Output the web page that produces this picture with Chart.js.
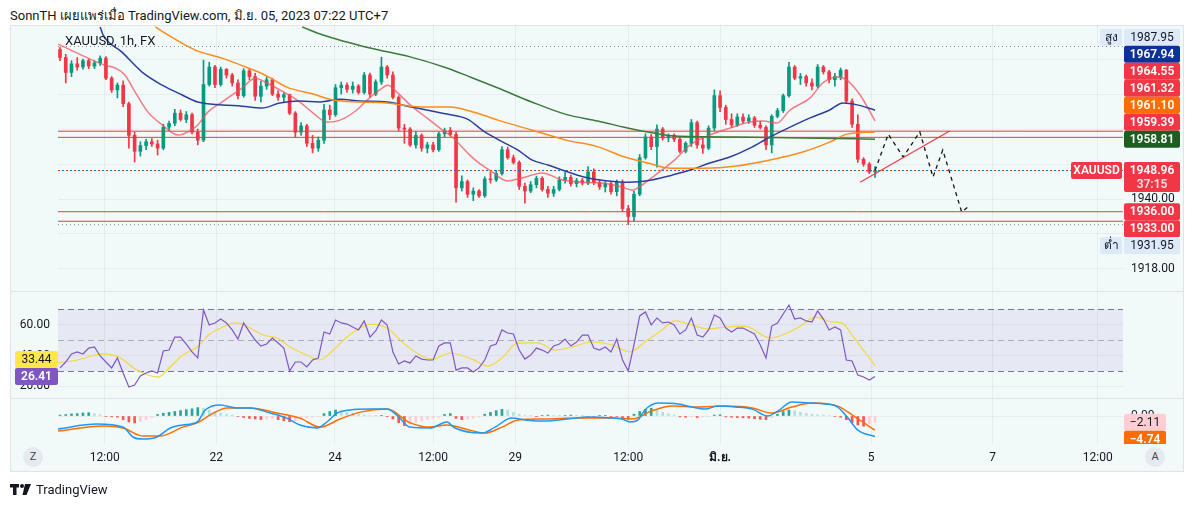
<!DOCTYPE html>
<html lang="th">
<head>
<meta charset="utf-8">
<title>XAUUSD 1h</title>
<script src="https://cdn.jsdelivr.net/npm/chart.js@4.4.1/dist/chart.umd.min.js"></script>
<style>
  html, body { margin: 0; padding: 0; background: #fff; }
  body { width: 1194px; height: 507px; position: relative; overflow: hidden;
         font-family: Roboto, "Noto Sans", sans-serif; color: #131722; }
  #title { position: absolute; left: 10px; top: 5px; font-size: 13px; white-space: nowrap; }
  #frame { position: absolute; left: 10px; top: 25px; width: 1174px; height: 447px;
           box-sizing: border-box; background: #f2faf9; border: 1px solid #e0e3eb; }
  .sep { position: absolute; left: 10px; width: 1174px; height: 1px; background: #e0e3eb; }
  canvas { position: absolute; left: 10px; }
  #legend { position: absolute; left: 65px; top: 33px; font-size: 13px; color: #131722; }
  .circle { position: absolute; top: 447px; width: 20px; height: 20px; border-radius: 50%;
            background: #e6e9ee; font-size: 11px; line-height: 20px; text-align: center; color: #434651; }
  #brand { position: absolute; left: 10px; top: 482px; font-size: 13px; color: #131722;
           display: flex; align-items: center; gap: 4px; }
</style>
</head>
<body>
<div id="title">SonnTH เผยแพร่เมื่อ TradingView.com, มิ.ย. 05, 2023 07:22 UTC+7</div>
<div id="frame"></div>
<div class="sep" style="top:291px"></div>
<div class="sep" style="top:398px"></div>
<canvas id="mainChart" width="1173" height="266" style="top:25px"></canvas>
<canvas id="rsiChart" width="1173" height="106" style="top:292px"></canvas>
<canvas id="macdChart" width="1173" height="72" style="top:399px"></canvas>
<div id="legend">XAUUSD, 1h, FX</div>
<div class="circle" style="left:23px">Z</div>
<div class="circle" style="left:1145px">A</div>
<div id="brand">
  <svg width="22" height="12" viewBox="0 0 22 12"><rect x="0" y="0" width="9" height="3.5" fill="#131722"/><rect x="3" y="0" width="3.5" height="11" fill="#131722"/><circle cx="12" cy="2" r="2" fill="#131722"/><polygon points="15,0 21,0 16.5,11 12.5,11" fill="#131722"/></svg>
  <span>TradingView</span>
</div>
<script>
// candles, 2h each
const opens = [1987,1984.5,1979.8,1982.5,1981.5,1983.5,1981.8,1982.8,1984.3,1978,
  1974.3,1975.8,1970,1960,1955,1956.8,1958,1957.3,1956,1962.6,
  1963.8,1967,1965,1966.5,1961,1958.5,1976,1981.5,1976,1980.8,
  1979,1976.5,1972.5,1980.3,1978.5,1972.3,1975.5,1977.5,1973,1972,
  1972.8,1967,1961,1963,1957.5,1956,1958.5,1968,1966.5,1975,
  1975.8,1974.5,1975.5,1973.5,1979,1973,1976.8,1981.5,1979,1972,
  1962.3,1962,1957,1960,1956,1957,1955.5,1960.5,1961.5,1960.3,
  1943.5,1945.5,1941.5,1942.5,1941,1946.3,1946,1948,1955.5,1953,
  1951.5,1944,1942.5,1944.5,1946.5,1943,1941.8,1943,1946,1946.8,
  1944.8,1945.8,1945,1948.5,1945.2,1943.8,1944.8,1942.3,1945.3,1937,
  1934.5,1941.5,1953,1959.5,1956.5,1962,1959.2,1960,1958.8,1955,
  1957.5,1964,1957,1956,1962.3,1972.5,1968.8,1965,1963.3,1965.8,
  1964.5,1965.5,1963.2,1962.5,1957,1966,1967.8,1972.5,1981.5,1978,
  1978.5,1976.5,1975.5,1981.5,1980,1977.5,1978.5,1980.5,1970.8,1963.5,
  1952.5,1951,1948.5];
const highs = [1987.8,1985.5,1983.5,1984.5,1984,1984,1983.5,1985,1984.8,1978.5,
  1976.5,1977.2,1970.5,1961,1958,1958.8,1959,1958.5,1963.5,1964.5,
  1968.2,1968,1967.5,1967,1962,1983.7,1983,1982,1981.5,1981,
  1979.5,1977.5,1981,1981,1979.5,1977,1978.5,1978,1974,1973.5,
  1973,1967.5,1964,1963.5,1960,1959.5,1969.8,1969.5,1976,1976.8,
  1976.5,1976.8,1976,1979.8,1979.6,1977.5,1984.6,1982,1980,1972.5,
  1963.5,1962.5,1961.2,1960.5,1957.8,1957.8,1961,1962.3,1962.5,1961,
  1947.3,1946,1943.5,1943,1947,1948.5,1949,1956.5,1956.3,1953.8,
  1952,1945,1945.5,1947.2,1947,1944,1944,1947,1948.5,1947.5,
  1946.5,1946.5,1950.2,1949.5,1946,1945.5,1945.3,1946,1946,1938,
  1942.5,1954,1960.5,1960.3,1963.3,1962.5,1960.5,1960.5,1959.5,1958,
  1965,1964.5,1959.5,1963,1974.3,1974,1969.5,1966.8,1966.8,1966.8,
  1966.5,1966,1964.5,1963,1966.5,1968.5,1973,1983,1982,1979.5,
  1979,1977.8,1982.3,1982,1980.5,1979.5,1981.2,1980.8,1971.5,1966.5,
  1953,1951.5,1950.2];
const lows = [1983.5,1976.5,1978.5,1980.5,1980.8,1981,1981,1982,1977.5,1973.5,
  1971.8,1969,1956,1951.6,1953.5,1955.5,1956.5,1953.8,1955.5,1961.5,
  1963,1964.5,1964,1960.5,1957,1958,1975.5,1975,1975.5,1978,
  1975.5,1971.5,1972,1977.5,1971,1970.5,1974.5,1972.5,1971,1970.5,
  1966.5,1959.5,1960,1956.5,1954.5,1955,1957.5,1965,1966,1973,
  1973.5,1973.3,1973,1973,1972,1972.5,1976,1978,1971.5,1961.5,
  1957.5,1956.5,1956,1955,1954.5,1954.8,1955,1959.5,1959.8,1939,
  1942.5,1940.5,1939.5,1940.5,1940.5,1945,1945.5,1947.5,1952.5,1951,
  1943,1938.7,1942,1943.5,1942.5,1940.5,1940.8,1942.5,1945,1944,
  1943.8,1944.4,1944.5,1944.5,1943,1942.2,1941.5,1941,1936,1931.95,
  1933,1941,1952.5,1955.5,1950,1958.5,1958,1958,1954.5,1954.5,
  1956.5,1956,1954.3,1955.5,1961.5,1967.5,1963.5,1962.5,1962.8,1963.8,
  1963.8,1962.5,1962,1955.5,1954.5,1965.5,1967.2,1972,1977.5,1976,
  1975.5,1974.3,1975,1979.3,1976.5,1975.5,1977.5,1970,1962.5,1951.5,
  1950.3,1948,1946.8];
const closes = [1984.5,1979.8,1982.5,1981.5,1983.5,1981.8,1982.8,1984.3,1978,1974.3,
  1975.8,1970,1960,1955,1956.8,1958,1957.3,1956,1962.6,1963.8,
  1967,1965,1966.5,1961,1958.5,1976,1981.5,1976,1980.8,1979,
  1976.5,1972.5,1980.3,1978.5,1972.3,1975.5,1977.5,1973,1972,1972.8,
  1967,1961,1963,1957.5,1956,1958.5,1968,1966.5,1975,1975.8,
  1974.5,1975.5,1973.5,1979,1973,1976.8,1981.5,1979,1972,1962.3,
  1962,1957,1960,1956,1957,1955.5,1960.5,1961.5,1960.3,1943.5,
  1945.5,1941.5,1942.5,1941,1946.3,1946,1948,1955.5,1953,1951.5,
  1944,1942.5,1944.5,1946.5,1943,1941.8,1943,1946,1946.8,1944.8,
  1945.8,1945,1948.5,1945.2,1943.8,1944.8,1942.3,1945.3,1937,1934.5,
  1941.5,1953,1959.5,1956.5,1962,1959.2,1960,1958.8,1955,1957.5,
  1964,1957,1956,1962.3,1972.5,1968.8,1965,1963.3,1965.8,1964.5,
  1965.5,1963.2,1962.5,1957,1966,1967.8,1972.5,1981.5,1978,1978.5,
  1976.5,1975.5,1981.5,1980,1977.5,1978.5,1980.5,1970.8,1963.5,1952.5,
  1951,1948.5,1948.96];

// moving averages, [bar, price]
const emaFast = [[-0.3,1988.7],[4.9,1984.3],[7.8,1982.1],[9.6,1981.2],[11.3,1979],[13.1,1973.6],[15.3,1967.4],[17.8,1963.3],[20.6,1960.1],[22.3,1961.1],[24,1963.3],[25.8,1967.4],[28.2,1970.5],[31.7,1974.9],[34,1978],[35.7,1976.8],[38.3,1974.3],[41.8,1970.5],[44.1,1967],[46.5,1964.2],[48.8,1964.8],[51.7,1968],[53.5,1971.1],[55.7,1974.3],[57.1,1975.8],[58.7,1973.6],[61,1969.6],[63.9,1965.5],[66.2,1962.3],[68.5,1959.2],[71.4,1953.8],[72.8,1951.6],[75.3,1948.5],[77.9,1945.7],[80.5,1946.6],[84,1948.2],[87.5,1946],[90.9,1945.3],[94.4,1945],[97.9,1943.8],[99.7,1942.8],[101.4,1944.4],[103.7,1947.5],[107.1,1952.3],[109.8,1957],[113.2,1960.1],[116.7,1962.3],[120.2,1964.2],[122.5,1964.5],[124.9,1963.9],[127.2,1968],[130.7,1971.8],[132.9,1976.5],[135.4,1978.4],[137.1,1977.4],[139.4,1972.7],[142,1964.55]];
const emaMid = [[7,1994.1],[7.5,1991.6],[10.8,1986.2],[14.3,1979.9],[17.8,1975.8],[21.3,1972.7],[24,1970.5],[28.2,1969.6],[31.7,1969.2],[35.2,1968.6],[38.3,1970.2],[41.8,1970.8],[45.3,1970.5],[48.8,1971.4],[52.3,1970.8],[57,1970.5],[60.5,1969.2],[63.9,1968],[67.4,1966.7],[70.9,1965.2],[74,1961.1],[77.5,1957.6],[79.8,1955.4],[82.2,1952.3],[85,1950.7],[88.5,1948.5],[92,1946.6],[95.5,1945.7],[99,1945.3],[103.1,1946],[106.6,1947.5],[109.8,1949.1],[113.2,1951.3],[116.7,1953.2],[120.2,1956],[123.7,1959.5],[127.2,1962.6],[130.7,1965.5],[134.1,1968],[136.4,1970.2],[138.9,1969.6],[142,1967.94]];
const emaSlow = [[16.6,1994.1],[18.8,1991.6],[23.5,1986.9],[28.2,1984.3],[32.8,1981.2],[35.7,1979],[39.5,1975.2],[44.1,1973],[47.6,1971.1],[52.3,1970.5],[57,1970.2],[61,1969.2],[65,1968.9],[67.9,1968.9],[71.4,1967.7],[76.3,1964.8],[82.2,1961.7],[88,1958.6],[93.7,1956.4],[98.4,1953.2],[102.4,1951.3],[106.6,1949.7],[112,1949.7],[117.9,1950.4],[123.7,1952.3],[129.4,1954.8],[134.1,1957.9],[137.1,1960.4],[142,1961.1]];
const emaLong = [[42.2,1994.1],[45.8,1991.6],[54,1987.5],[61,1984.7],[67.4,1981.2],[71.4,1978.4],[76.3,1974.9],[82.2,1970.5],[88,1966.7],[93.7,1964.5],[99.7,1962],[103.1,1960.8],[107.1,1959.8],[117.9,1959.5],[129.4,1959.2],[142,1958.81]];

// drawings
const projection = [[142,1948.96],[144.3,1960.4],[146.9,1953.2],[149.8,1961.1],[152.1,1946.9],[153.8,1955.4],[157.1,1935.9],[158.2,1937.5]];
const trendLine = [[139.4,1945.3],[155,1961.4]];
const levelLines = [1961.32, 1959.39, 1936, 1933];
const highPrice = 1987.95, lowPrice = 1931.95, lastPrice = 1948.96;
const countdown = '37:15';
const tagValues = [1987.95, 1967.94, 1964.55, 1961.32, 1961.10, 1959.39, 1958.81, 1936.00, 1933.00, 1931.95];

// RSI
const rsi = [32,35.8,41,42.3,41,44.8,45.5,39.7,35.8,32,
  38.4,28.7,19.7,21,26.8,28.7,30,28.7,42.9,43.5,
  51.9,51.9,47.4,42.3,38.4,69.4,59.7,61,63.5,61,
  56.5,50.6,61,55.2,50,46.1,47.4,51.3,48.1,44.8,
  30,35.8,35.8,32.6,37.1,38.4,55.2,53.9,62.9,61,
  60.3,58.4,56.5,62.3,51.9,55.8,62.9,59.7,42.3,34.5,
  36.5,35.2,39.7,37.7,37.1,37.1,46.1,48.1,48.1,30.6,
  32,32,29.4,32,37.1,46.1,47.4,56.5,54.5,53.9,
  43.5,37.7,40.3,44.8,43.5,41.6,46.1,47.4,50.6,46.1,
  48.7,53.2,53.2,44.8,43.5,45.5,42.3,50.6,37.1,30,
  46.8,65.5,68.1,59.7,64.2,61,61.6,59.7,53.9,56.5,
  64.2,53.2,51.9,56.5,66.1,64.2,57.7,55.2,57.7,57.7,
  55.8,53.9,46.8,38.4,59,61,66.8,72.6,63.5,64.2,
  62.3,61.6,68.7,63.5,56.5,58.4,56.5,37.1,36.5,27.4,
  26.1,24.2,26.41];
const rsiMa = [[-0.35,35.2],[3,37.1],[7.5,41],[10.5,38.4],[13.4,30.6],[17.1,26.1],[19.2,32.6],[21.4,40.3],[23.9,45.5],[26.1,53.9],[28.4,58.4],[30.8,61],[33.1,57.7],[35.4,53.2],[37.8,51.3],[40.1,45.5],[43,40.3],[45.3,37.1],[47.6,43.5],[50,51.9],[52.3,57.7],[54,60.3],[57,57.7],[59.8,48.1],[62.7,40.3],[65,37.7],[67.9,41.6],[71.8,37.7],[74.6,33.2],[77,38.4],[79.8,48.1],[83.3,48.1],[86.2,43.5],[89.2,45.5],[92.7,48.7],[96.2,46.8],[99.3,42.3],[101.9,48.7],[104.9,56.5],[107.1,62.3],[110.1,59.7],[112.9,57.1],[115.9,58.4],[119.3,59],[123.7,51.3],[126.3,53.9],[129.3,59.7],[131.5,64.8],[134.5,61.6],[136.2,61],[138,53.2],[139.7,44.8],[142,33.44]];
const rsiLevels = [70, 50, 30];
const rsiTicks = [20, 40, 60];
const rsiTags = [33.44, 26.41];

// MACD
const macdLine = [[-0.35,-4.3],[6.4,-2.7],[11,-3.7],[12.7,-7],[14.5,-7.7],[16.9,-7],[19.2,-4],[21.4,-3],[23.9,-2],[25.3,2],[27.9,3.7],[30.8,2.7],[33.1,2.7],[36.6,1],[39.5,-0.7],[41.8,-3],[44.8,-4],[46.5,-2],[48.3,1],[50.5,2],[54,2.3],[57,2.3],[58.7,0.3],[61,-3.7],[64.5,-4],[67.4,-2],[68.8,-4],[73.5,-5.7],[75.8,-3.7],[78.7,-0.7],[81,-1.3],[84.5,-1.7],[88.5,-1],[92,-0.3],[96.2,-0.7],[97.9,-1],[99.3,-2],[100.7,-1.3],[101.9,2],[104.2,4.3],[107.7,4],[110.1,3],[112.4,2.3],[114.6,3.3],[117.6,3],[120.6,2.3],[123.3,0],[125.1,1.7],[127.5,4.7],[131,4.3],[133.3,4],[135.5,3],[137.3,-0.7],[139,-4.7],[142,-6.85]];
const signalLine = [[-0.35,-5],[7.5,-3.3],[11,-4],[14.5,-6.7],[17.4,-6.7],[21.4,-3.7],[23.9,-2.3],[26.1,0.3],[29.1,2.7],[33.1,2.7],[37.8,1],[41.8,-0.7],[45.3,-3.7],[48.8,-1],[52.3,1.3],[57,2.3],[61,-2.3],[64.5,-3.7],[67.4,-3],[70.6,-4.3],[74,-5.7],[77,-3.7],[79.8,-1.3],[84.5,-1],[90.2,-0.7],[96.2,-0.7],[99.7,-1],[103.1,1.7],[106.6,3.3],[111.1,3],[115.9,3.3],[120.6,2.7],[124,1],[127.5,3],[131,4.3],[135.5,3.3],[138.5,-0.3],[142,-4.74]];
const macdHist = [0.3,0.5,0.7,0.8,1.0,1.1,0.8,0.4,-0.2,-0.3,
  -0.4,-1.2,-2.0,-2.3,-1.8,-1.2,-0.6,0.5,0.9,1.2,
  1.5,1.8,2.1,2.4,2.8,2.6,2.0,1.5,1.0,0.6,
  0.3,-0.2,-0.5,-0.8,-1.0,-1.2,-1.0,-0.8,-1.2,-1.6,
  -1.9,-1.6,-1.0,-0.6,-0.4,-0.2,0.8,1.5,2.0,1.6,
  1.2,0.9,0.6,0.4,0.2,0.1,0.1,-0.1,-1.0,-2.2,
  -3.2,-2.8,-2.2,-1.6,-1.1,-0.7,-0.4,0.5,0.8,-0.8,
  -1.2,-1.0,-0.7,-0.4,0.6,1.2,1.8,2.2,2.0,1.2,
  0.6,0.2,0.1,-0.1,0.2,0.3,0.2,0.1,0.2,0.3,
  0.2,0.1,-0.1,-0.2,0.1,0.1,-0.1,-0.2,-0.8,-1.1,
  0.6,1.5,2.2,2.6,1.9,1.2,0.7,0.4,-0.3,-0.4,
  -0.3,-0.5,-0.3,-0.2,0.3,0.4,-0.3,-0.4,-0.5,-0.6,
  -0.7,-0.9,-1.1,-1.2,-0.6,0.6,1.5,2.0,1.7,1.3,
  0.9,0.6,0.4,0.3,0.2,-0.2,-0.4,-1.2,-2.2,-3.0,
  -3.4,-2.6,-2.11];
const macdTags = [-2.11, -4.74];

// axes
const timePos = [7.8, 27.2, 47.9, 65, 79.3, 99, 115, 141.3, 162.5, 180.8];
const timeLabels = ['12:00', '22', '24', '12:00', '29', '12:00', 'มิ.ย.', '5', '7', '12:00'];
const priceTicks = [1918, 1929, 1940, 1951, 1962, 1973, 1984];
const priceTickShown = [1918, 1940];

const FONT = 'Roboto, "Noto Sans", sans-serif';
const UP = '#089981', DOWN = '#f23645';
const GRID = 'rgba(42,46,57,0.06)';
const xMin = -0.35, xMax = 185.2;

Chart.defaults.font.family = FONT;
Chart.defaults.font.size = 12;
Chart.defaults.color = '#131722';
Chart.defaults.animation = false;
Chart.defaults.plugins.legend.display = false;
Chart.defaults.plugins.tooltip.enabled = false;

const pts = (arr) => arr.map(([x, y]) => ({ x, y }));
const hline = (v) => [{ x: xMin, y: v }, { x: xMax, y: v }];
const lineSet = (data, color, width, extra) => Object.assign({
  type: 'line', data, borderColor: color, borderWidth: width, pointRadius: 0,
  fill: false, cubicInterpolationMode: 'monotone', order: 2
}, extra || {});

const timeAxis = (showLabels) => ({
  type: 'linear', min: xMin, max: xMax, offset: false, bounds: 'data',
  grid: { color: GRID, drawTicks: false, offset: false },
  border: { display: false },
  ticks: {
    display: showLabels, autoSkip: false, maxRotation: 0, padding: 7,
    callback: (v, i) => timeLabels[i],
    font: (c) => ({ family: FONT, size: 12, weight: timeLabels[c.index] === 'มิ.ย.' ? 'bold' : 'normal' })
  },
  afterBuildTicks: (s) => { s.ticks = timePos.map((v) => ({ value: v })); },
  afterFit: (s) => { s.height = showLabels ? 27 : 0; s.paddingLeft = 0; s.paddingRight = 0; }
});

const box = (ctx, x, y, w, h, bg) => {
  ctx.fillStyle = bg;
  ctx.beginPath();
  ctx.roundRect(x, y, w, h, 2);
  ctx.fill();
};
const label = (ctx, text, x, y, color) => {
  ctx.fillStyle = color;
  ctx.textAlign = 'center';
  ctx.textBaseline = 'middle';
  ctx.fillText(text, x, y + 0.5);
};

// ---------- main pane ----------
const hiLo = { bg: '#dde9f9', fg: '#131722', weight: 'normal' };
const red = { bg: DOWN, fg: '#fff', weight: '600' };
const tagStyles = [
  Object.assign({ side: 'สูง' }, hiLo), { bg: '#0c3299', fg: '#fff', weight: '600' }, red, red,
  { bg: '#ff6d00', fg: '#fff', weight: '600' }, red, { bg: '#1b5e20', fg: '#fff', weight: '600' }, red, red,
  Object.assign({ side: 'ต่ำ' }, hiLo)
];

const priceTagPlugin = {
  id: 'priceTags',
  afterDraw(chart) {
    const { ctx, chartArea: a, scales: { y } } = chart;
    const H = 17;
    const lastY = y.getPixelForValue(lastPrice);
    const tags = tagValues.map((v, i) => ({ v, py: y.getPixelForValue(v), st: tagStyles[i] }));

    let limit = lastY - 8.5;
    tags.filter((t) => t.v > lastPrice).sort((p, q) => p.v - q.v).forEach((t) => {
      t.c = Math.min(t.py, limit - H / 2);
      limit = t.c - H / 2;
    });
    limit = lastY + 21.5;
    tags.filter((t) => t.v < lastPrice).sort((p, q) => q.v - p.v).forEach((t) => {
      t.c = Math.max(t.py, limit + H / 2);
      limit = t.c + H / 2;
    });

    ctx.save();
    tags.forEach((t) => {
      ctx.font = `${t.st.weight} 12px ${FONT}`;
      box(ctx, a.right + 1, t.c - H / 2, 56, H, t.st.bg);
      label(ctx, t.v.toFixed(2), a.right + 29, t.c, t.st.fg);
      if (t.st.side) {
        box(ctx, a.right - 23, t.c - H / 2, 22, H, t.st.bg);
        label(ctx, t.st.side, a.right - 12, t.c, t.st.fg);
      }
    });
    ctx.font = `600 12px ${FONT}`;
    box(ctx, a.right + 1, lastY - 8.5, 56, 30, DOWN);
    label(ctx, lastPrice.toFixed(2), a.right + 29, lastY, '#fff');
    label(ctx, countdown, a.right + 29, lastY + 14, 'rgba(255,255,255,0.85)');
    box(ctx, a.right - 52, lastY - 8.5, 51, H, DOWN);
    label(ctx, 'XAUUSD', a.right - 26.5, lastY, '#fff');
    ctx.restore();
  }
};

const candleColors = opens.map((o, i) => (closes[i] >= o ? UP : DOWN));

new Chart(document.getElementById('mainChart'), {
  type: 'bar',
  data: {
    datasets: [
      {
        data: opens.map((o, i) => ({ x: i, y: [lows[i], highs[i]] })),
        backgroundColor: candleColors, barThickness: 1, grouped: false, order: 11
      },
      {
        data: opens.map((o, i) => ({ x: i, y: [Math.min(o, closes[i]), Math.max(o, closes[i])] })),
        backgroundColor: candleColors, barThickness: 3, minBarLength: 1, grouped: false, order: 10
      },
      ...levelLines.map((v) => lineSet(hline(v), DOWN, 1, { order: 6 })),
      lineSet(hline(highPrice), '#8a8d96', 1, { borderDash: [1, 3], order: 6 }),
      lineSet(hline(lowPrice), '#8a8d96', 1, { borderDash: [1, 3], order: 6 }),
      lineSet(hline(lastPrice), DOWN, 1.2, { borderDash: [2, 6], order: 6 }),
      lineSet(hline(lastPrice), '#2962ff', 1.2, { borderDash: [2, 6], borderDashOffset: 4, order: 6 }),
      lineSet(pts(emaLong), '#3b7a3e', 1.5),
      lineSet(pts(emaSlow), '#fb8c1e', 1.5),
      lineSet(pts(emaMid), '#2b3f9e', 1.5),
      lineSet(pts(emaFast), 'rgba(242,80,92,0.75)', 1.5),
      lineSet(pts(trendLine), DOWN, 1.2, { cubicInterpolationMode: 'default', order: 1 }),
      lineSet(pts(projection), '#131722', 1.3, { borderDash: [4, 4], cubicInterpolationMode: 'default', order: 1 })
    ]
  },
  options: {
    responsive: false,
    devicePixelRatio: 1,
    layout: { padding: { left: 48, right: 0, top: 0, bottom: 0 } },
    scales: {
      x: timeAxis(false),
      y: {
        type: 'linear', position: 'right', min: 1911.07, max: 1994.72, bounds: 'data',
        grid: { color: GRID, drawTicks: false },
        border: { display: false },
        ticks: { padding: 8, callback: (v) => (priceTickShown.includes(v) ? v.toFixed(2) : '') },
        afterBuildTicks: (s) => { s.ticks = priceTicks.map((v) => ({ value: v })); },
        afterFit: (s) => { s.width = 60; s.paddingTop = 0; s.paddingBottom = 0; }
      }
    }
  },
  plugins: [priceTagPlugin]
});

// ---------- RSI pane ----------
const rsiPlugin = {
  id: 'rsiBand',
  beforeDatasetsDraw(chart) {
    const { ctx, chartArea: a, scales: { y } } = chart;
    const top = y.getPixelForValue(rsiLevels[0]);
    const bottom = y.getPixelForValue(rsiLevels[2]);
    ctx.save();
    ctx.fillStyle = 'rgba(126,87,194,0.1)';
    ctx.fillRect(a.left, top, a.right - a.left, bottom - top);
    ctx.lineWidth = 1;
    ctx.setLineDash([6, 4]);
    rsiLevels.forEach((lv, i) => {
      const py = Math.round(y.getPixelForValue(lv)) + 0.5;
      ctx.strokeStyle = i === 1 ? 'rgba(120,123,134,0.55)' : '#787b86';
      ctx.beginPath();
      ctx.moveTo(a.left, py);
      ctx.lineTo(a.right, py);
      ctx.stroke();
    });
    ctx.restore();
  },
  afterDraw(chart) {
    const { ctx, scales: { y } } = chart;
    const H = 17;
    const rsiY = y.getPixelForValue(rsiTags[1]);
    const maY = Math.min(y.getPixelForValue(rsiTags[0]), rsiY - H);
    ctx.save();
    ctx.font = `12px ${FONT}`;
    box(ctx, 5, maY - H / 2, 43, H, '#fde74c');
    label(ctx, rsiTags[0].toFixed(2), 26.5, maY, '#131722');
    ctx.font = `600 12px ${FONT}`;
    box(ctx, 5, rsiY - H / 2, 43, H, '#7e57c2');
    label(ctx, rsiTags[1].toFixed(2), 26.5, rsiY, '#fff');
    ctx.restore();
  }
};

new Chart(document.getElementById('rsiChart'), {
  type: 'line',
  data: {
    datasets: [
      lineSet(pts(rsiMa), '#f5d73a', 1.2, { order: 2 }),
      lineSet(rsi.map((v, i) => ({ x: i, y: v })), '#7e57c2', 1.2, { cubicInterpolationMode: 'default', order: 1 })
    ]
  },
  options: {
    responsive: false,
    devicePixelRatio: 1,
    layout: { padding: { left: 0, right: 60, top: 0, bottom: 0 } },
    scales: {
      x: timeAxis(false),
      y: {
        type: 'linear', position: 'left', min: 12.58, max: 80.97, bounds: 'data',
        grid: { color: GRID, drawTicks: false },
        border: { display: false },
        ticks: { padding: 8, callback: (v) => v.toFixed(2) },
        afterBuildTicks: (s) => { s.ticks = rsiTicks.map((v) => ({ value: v })); },
        afterFit: (s) => { s.width = 48; s.paddingTop = 0; s.paddingBottom = 0; }
      }
    }
  },
  plugins: [rsiPlugin]
});

// ---------- MACD pane ----------
const histColors = macdHist.map((v, i) => {
  const prev = i > 0 ? macdHist[i - 1] : v;
  if (v >= 0) return v >= prev ? '#26a69a' : '#b2dfdb';
  return v <= prev ? '#ff5252' : '#ffcdd2';
});

const macdTagPlugin = {
  id: 'macdTags',
  afterDraw(chart) {
    const { ctx, chartArea: a, scales: { y } } = chart;
    const H = 17;
    const histY = y.getPixelForValue(macdTags[0]);
    const sigY = Math.max(y.getPixelForValue(macdTags[1]), histY + H);
    ctx.save();
    ctx.beginPath();
    ctx.rect(a.right, 0, 60, a.bottom);
    ctx.clip();
    ctx.font = `12px ${FONT}`;
    box(ctx, a.right + 1, histY - H / 2, 42, H, '#ffcdd2');
    label(ctx, '−' + Math.abs(macdTags[0]).toFixed(2), a.right + 22, histY, '#131722');
    ctx.font = `600 12px ${FONT}`;
    box(ctx, a.right + 1, sigY - H / 2, 42, H, '#ff6d00');
    label(ctx, '−' + Math.abs(macdTags[1]).toFixed(2), a.right + 22, sigY, '#fff');
    ctx.restore();
  }
};

new Chart(document.getElementById('macdChart'), {
  type: 'bar',
  data: {
    datasets: [
      {
        data: macdHist.map((v, i) => ({ x: i, y: v })),
        backgroundColor: histColors, barThickness: 2, grouped: false, order: 5
      },
      lineSet(pts(signalLine), '#ff6d00', 1.5, { order: 2 }),
      lineSet(pts(macdLine), '#2196f3', 1.5, { order: 1 })
    ]
  },
  options: {
    responsive: false,
    devicePixelRatio: 1,
    layout: { padding: { left: 48, right: 0, top: 0, bottom: 0 } },
    scales: {
      x: timeAxis(true),
      y: {
        type: 'linear', position: 'right', min: -9.33, max: 5.67, bounds: 'data',
        grid: { color: GRID, drawTicks: false },
        border: { display: false },
        ticks: { padding: 8, callback: (v) => v.toFixed(2) },
        afterBuildTicks: (s) => { s.ticks = [{ value: 0 }]; },
        afterFit: (s) => { s.width = 60; s.paddingTop = 0; s.paddingBottom = 0; }
      }
    }
  },
  plugins: [macdTagPlugin]
});
</script>
</body>
</html>
